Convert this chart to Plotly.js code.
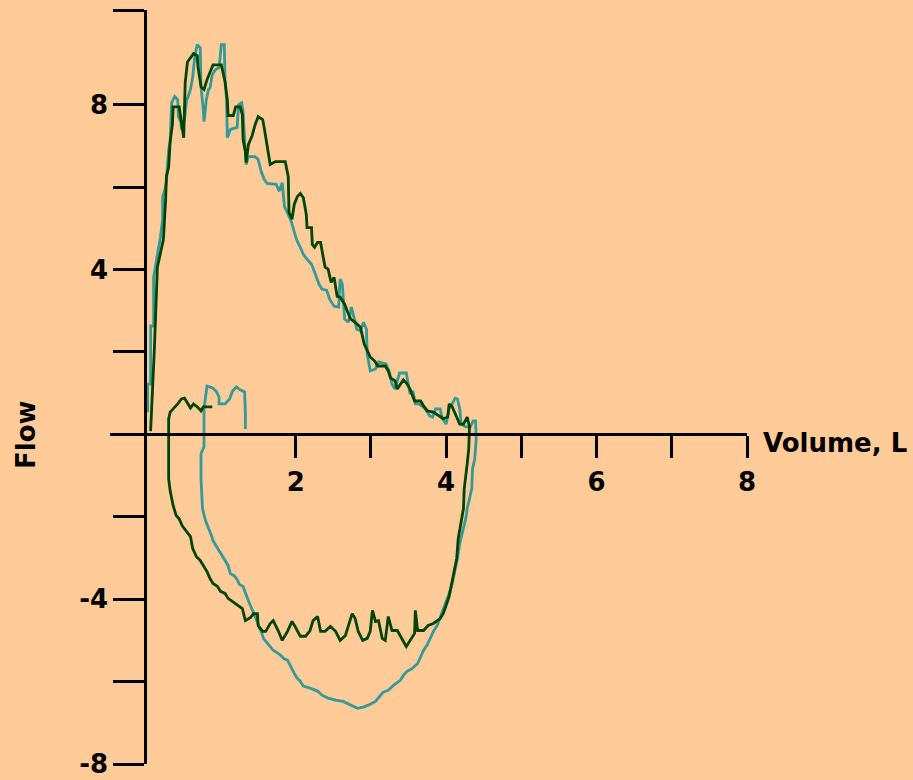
<!DOCTYPE html>
<html><head><meta charset="utf-8">
<script src="https://cdn.plot.ly/plotly-3.0.1.min.js"></script>
<style>html,body{margin:0;padding:0;background:#FFCC99;}#chart{width:913px;height:780px;}</style>
</head><body><div id="chart"></div>
<script>
// Green loop (volume L, flow L/s)
const greenVolume = [0.07,0.08,0.12,0.16,0.20,0.24,0.27,0.28,0.31,0.33,0.36,0.37,0.45,0.48,0.51,0.52,0.53,0.56,0.60,0.64,0.69,0.70,0.74,0.78,0.82,0.86,0.90,1.01,1.04,1.06,1.09,1.10,1.17,1.20,1.26,1.29,1.30,1.33,1.34,1.37,1.42,1.46,1.50,1.56,1.58,1.62,1.66,1.73,1.86,1.90,1.91,1.95,1.98,2.02,2.06,2.10,2.14,2.15,2.21,2.22,2.25,2.29,2.33,2.37,2.39,2.43,2.47,2.51,2.55,2.59,2.65,2.69,2.73,2.79,2.86,2.91,2.95,2.99,3.05,3.09,3.19,3.23,3.26,3.32,3.35,3.39,3.43,3.47,3.52,3.58,3.66,3.70,3.75,3.83,3.90,3.96,4.02,4.04,4.08,4.12,4.18,4.23,4.28,4.31,4.31,
4.30,4.28,4.26,4.24,4.23,4.19,4.16,4.14,4.10,4.07,4.04,4.00,3.96,3.92,3.83,3.76,3.70,3.62,3.59,3.58,3.52,3.47,3.43,3.39,3.35,3.28,3.23,3.19,3.15,3.10,3.06,3.02,2.99,2.95,2.89,2.83,2.79,2.75,2.70,2.66,2.59,2.53,2.46,2.39,2.33,2.29,2.23,2.19,2.13,2.06,1.99,1.95,1.89,1.82,1.77,1.70,1.66,1.60,1.56,1.50,1.49,1.44,1.40,1.33,1.29,1.22,1.16,1.10,1.06,1.00,0.96,0.90,0.86,0.82,0.77,0.73,0.68,0.63,0.60,0.57,0.52,0.49,0.45,0.41,0.37,0.33,0.31,0.31,0.31,0.33,0.40,0.43,0.48,0.52,0.56,0.60,0.64,0.69,0.74,0.77,0.89];
const greenFlow = [0.08,0.45,2.07,4.06,4.44,4.73,5.70,6.26,6.48,7.11,7.52,7.95,7.95,7.52,7.20,7.88,8.54,9.04,9.14,9.24,9.19,8.92,8.44,8.37,8.61,8.78,8.97,8.97,8.73,8.56,8.12,7.74,7.74,7.95,7.95,7.76,7.15,6.86,6.60,7.03,7.25,7.52,7.71,7.64,7.45,6.99,6.55,6.62,6.62,6.26,5.39,5.22,5.58,5.77,5.85,5.75,5.34,5.02,5.02,4.61,4.54,4.66,4.66,4.25,4.06,4.01,3.69,3.81,3.35,3.33,3.16,2.97,2.80,2.72,2.60,2.19,2.02,1.88,1.78,1.66,1.66,1.54,1.37,1.30,1.10,1.22,1.32,1.25,1.10,0.81,0.81,0.69,0.57,0.54,0.45,0.38,0.42,0.74,0.67,0.50,0.25,0.25,0.42,0.18,-0.11,
-0.35,-0.71,-0.96,-1.32,-1.80,-2.17,-2.53,-3.01,-3.38,-3.69,-3.93,-4.15,-4.35,-4.47,-4.59,-4.64,-4.76,-4.76,-4.27,-4.83,-5.00,-5.15,-5.02,-4.88,-4.76,-4.76,-4.42,-5.00,-4.95,-4.52,-4.54,-4.27,-4.78,-4.95,-5.00,-4.78,-4.47,-4.35,-4.66,-4.88,-5.00,-4.78,-4.66,-4.78,-4.78,-4.42,-4.52,-4.76,-4.90,-4.90,-4.66,-4.54,-4.78,-5.00,-4.78,-4.52,-4.59,-4.78,-4.78,-4.64,-4.35,-4.35,-4.44,-4.52,-4.23,-4.13,-4.06,-3.98,-3.86,-3.81,-3.69,-3.62,-3.50,-3.33,-3.18,-3.06,-2.97,-2.77,-2.48,-2.41,-2.29,-2.22,-2.05,-1.97,-1.73,-1.37,-1.08,0.13,0.38,0.54,0.67,0.74,0.86,0.88,0.76,0.64,0.74,0.67,0.57,0.67,0.67];

// Teal loop
const tealVolume = [0.03,0.03,0.07,0.07,0.11,0.11,0.15,0.17,0.20,0.23,0.23,0.25,0.28,0.29,0.31,0.33,0.35,0.39,0.43,0.44,0.47,0.48,0.52,0.55,0.57,0.60,0.63,0.66,0.69,0.73,0.74,0.77,0.78,0.81,0.84,0.86,0.89,0.93,0.98,1.01,1.05,1.06,1.08,1.09,1.13,1.22,1.24,1.28,1.30,1.32,1.34,1.37,1.46,1.50,1.54,1.58,1.62,1.74,1.78,1.82,1.85,1.90,1.94,1.97,2.01,2.06,2.10,2.15,2.21,2.26,2.31,2.35,2.41,2.45,2.51,2.57,2.59,2.62,2.65,2.70,2.74,2.78,2.81,2.86,2.90,2.94,2.95,2.99,3.06,3.10,3.20,3.24,3.28,3.32,3.35,3.38,3.47,3.50,3.52,3.56,3.59,3.63,3.68,3.72,3.78,3.82,3.86,3.92,3.95,4.00,4.04,4.08,4.12,4.15,4.18,4.20,4.26,4.32,4.36,4.39,4.40,4.39,
4.38,4.35,4.34,4.31,4.28,4.26,4.22,4.18,4.15,4.12,4.08,4.04,4.00,3.96,3.92,3.88,3.83,3.79,3.75,3.70,3.66,3.62,3.55,3.48,3.43,3.39,3.30,3.23,3.16,3.10,3.06,2.99,2.90,2.82,2.73,2.63,2.53,2.43,2.35,2.29,2.19,2.10,2.06,2.02,1.98,1.95,1.91,1.89,1.84,1.80,1.76,1.70,1.66,1.62,1.57,1.54,1.52,1.46,1.42,1.38,1.34,1.30,1.25,1.22,1.18,1.13,1.10,1.06,1.02,0.98,0.93,0.90,0.88,0.84,0.80,0.76,0.74,0.74,0.78,0.78,0.80,0.82,0.89,0.94,0.98,0.98,1.06,1.12,1.16,1.21,1.26,1.32,1.33,1.33];
const tealFlow = [0.54,1.22,1.22,2.63,2.63,3.81,4.25,4.44,4.78,5.22,5.77,5.87,6.11,6.43,6.91,7.11,8.05,8.20,8.12,7.71,7.59,7.40,7.64,8.12,8.20,8.37,8.68,9.21,9.46,9.38,8.44,7.88,7.59,8.12,8.37,8.41,8.73,8.85,8.90,9.46,9.46,8.56,8.12,7.20,7.40,7.45,8.00,8.05,7.83,7.15,6.55,6.74,6.74,6.67,6.38,6.19,6.09,6.07,5.90,6.11,5.53,5.34,5.17,4.98,4.73,4.54,4.37,4.25,4.13,3.89,3.64,3.52,3.50,3.28,3.11,3.09,3.77,3.64,2.80,2.72,3.09,2.80,2.55,2.51,2.72,2.55,1.95,1.54,1.59,1.76,1.71,1.54,1.22,1.10,1.27,1.49,1.49,1.22,0.98,1.05,0.74,0.74,0.69,0.62,0.45,0.42,0.62,0.62,0.38,0.25,0.62,0.74,0.88,0.86,0.62,0.25,0.18,0.18,0.33,0.33,-0.11,-0.35,
-0.59,-0.84,-1.32,-1.56,-1.80,-2.05,-2.36,-2.65,-3.01,-3.26,-3.62,-3.86,-4.06,-4.23,-4.42,-4.64,-4.78,-4.95,-5.10,-5.24,-5.39,-5.56,-5.68,-5.75,-5.85,-5.97,-6.09,-6.21,-6.26,-6.40,-6.48,-6.55,-6.62,-6.65,-6.57,-6.48,-6.45,-6.40,-6.33,-6.23,-6.16,-6.11,-5.99,-5.92,-5.80,-5.68,-5.56,-5.48,-5.44,-5.36,-5.31,-5.24,-5.15,-5.07,-4.95,-4.78,-4.71,-4.42,-4.27,-4.08,-3.89,-3.69,-3.64,-3.52,-3.43,-3.38,-3.18,-3.06,-2.94,-2.80,-2.68,-2.58,-2.46,-2.29,-2.09,-1.80,-1.08,-0.47,-0.30,0.62,0.98,1.17,1.13,1.05,0.91,0.74,0.74,0.86,1.05,1.15,1.08,1.03,0.50,0.13];

const xTickValues = [2,3,4,5,6,7,8];
const xTickLabels = ['2','','4','','6','','8'];
const yTickValues = [-8,-6,-4,-2,2,4,6,8,10.3];
const yTickLabels = ['-8','','-4','','','4','','8',''];
const xTitle = 'Volume, L';
const yTitle = 'Flow';

const xRange = [-0.47, 8.0];
const yRange = [-8.0, 10.3];

const bg = '#FFCC99';
const fontSpec = {family: 'DejaVu Sans', size: 26, color: '#000000', weight: 'bold'};

const traces = [
  {x: tealVolume, y: tealFlow, type: 'scatter', mode: 'lines', line: {color: '#339999', width: 2.8}, hoverinfo: 'skip'},
  {x: greenVolume, y: greenFlow, type: 'scatter', mode: 'lines', line: {color: '#004400', width: 2.8}, hoverinfo: 'skip'}
];

const layout = {
  width: 913, height: 780,
  paper_bgcolor: bg, plot_bgcolor: bg,
  margin: {l: 110, r: 166, t: 10, b: 16},
  showlegend: false,
  font: fontSpec,
  xaxis: {
    range: xRange, showgrid: false, zeroline: false, automargin: false,
    anchor: 'free', position: (0 - yRange[0]) / (yRange[1] - yRange[0]),
    showline: true, linecolor: '#000', linewidth: 3,
    tickmode: 'array', tickvals: xTickValues, ticktext: xTickLabels,
    ticks: 'outside', ticklen: 22, tickwidth: 3, tickcolor: '#000',
    tickfont: fontSpec, ticklabelstandoff: 1, ticklabeloverflow: 'allow'
  },
  yaxis: {
    range: yRange, showgrid: false, zeroline: false, automargin: false,
    anchor: 'free', position: (0 - xRange[0]) / (xRange[1] - xRange[0]),
    showline: true, linecolor: '#000', linewidth: 3,
    tickmode: 'array', tickvals: yTickValues, ticktext: yTickLabels,
    ticks: 'outside', ticklen: 31, tickwidth: 3, tickcolor: '#000',
    tickfont: fontSpec, ticklabelstandoff: 0, ticklabeloverflow: 'allow'
  },
  annotations: [
    {text: xTitle, xref: 'paper', x: 1, xanchor: 'left', xshift: 14, yref: 'y', y: 0, yanchor: 'middle', yshift: -9, showarrow: false, font: fontSpec},
    {text: yTitle, xref: 'paper', x: -0.131, xanchor: 'center', yref: 'y', y: 0, yanchor: 'middle', showarrow: false, textangle: -90, font: fontSpec}
  ]
};

Plotly.newPlot('chart', traces, layout, {displayModeBar: false, staticPlot: true});
</script>
</body></html>
